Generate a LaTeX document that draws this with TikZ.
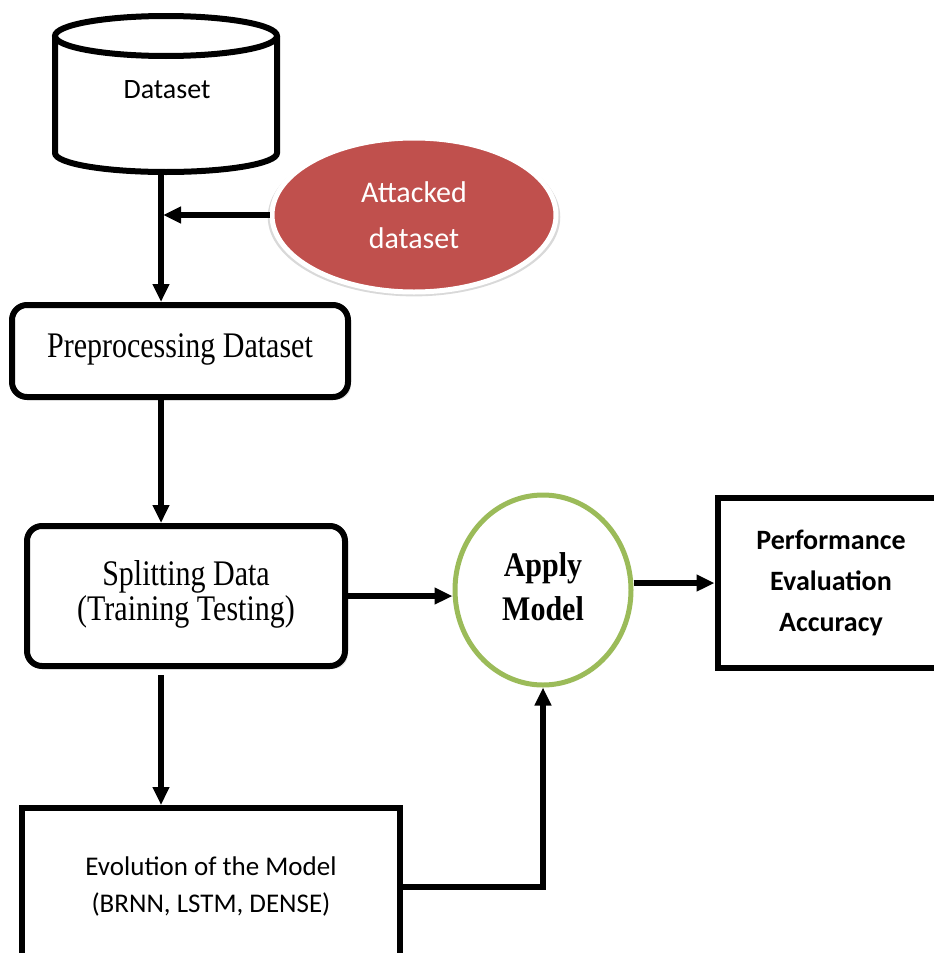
\documentclass[tikz,border=0pt]{standalone}
\usepackage{fontspec}
\setmainfont{Liberation Serif}
\newfontfamily\calfont{Carlito}
\usetikzlibrary{arrows.meta,shapes.geometric,shadows,calc}
\definecolor{attred}{HTML}{C0504D}
\definecolor{appgreen}{HTML}{9BBB59}
\newcommand{\tallstack}[2][1.2]{\scalebox{1}[#1]{\begin{tabular}{@{}c@{}}#2\end{tabular}}}
\begin{document}
\begin{tikzpicture}[x=1pt,y=-1pt,
  conn/.style={line width=5.5pt,-{Triangle[length=18pt,width=16pt]}},
  rbox/.style={draw,fill=white,line width=6pt,rounded corners=15pt,align=center,inner sep=0pt,
    drop shadow={opacity=0.25,shadow xshift=3pt,shadow yshift=-3pt}},
  sbox/.style={draw,fill=white,line width=6pt,align=center,inner sep=0pt},
  seriftext/.style={font=\fontsize{30}{28.5}\selectfont}]
\useasboundingbox (0,0) rectangle (934,953);
% cylinder
\draw[line width=6pt,fill=white] (55,36) -- (55,153) arc[start angle=180,end angle=0,x radius=111,y radius=19] -- (277,36);
\draw[line width=6pt] (166,36) ellipse [x radius=111,y radius=20];
\node[font=\calfont\fontsize{28}{34}\selectfont] (ds) at (167,90) {Dataset};
\coordinate (dsb) at (161,175);
% attacked
\node[ellipse,fill=attred,draw=white,line width=5pt,minimum width=284pt,minimum height=154pt,
  text=white,font=\calfont\fontsize{30}{46}\selectfont,align=center,
  drop shadow={opacity=0.3,shadow xshift=0pt,shadow yshift=-2pt,shadow scale=1.03}] (att) at (414,215) {Attacked\\dataset};
% boxes
\node[rbox,minimum width=336pt,minimum height=92pt,seriftext] (pre) at (180,351) {\tallstack{Preprocessing Dataset}};
\node[rbox,minimum width=318pt,minimum height=140pt,seriftext] (spl) at (186,596) {\raisebox{-3pt}{\tallstack{Splitting Data\\(Training Testing)}}};
\node[ellipse,draw=appgreen,line width=5pt,fill=white,minimum width=176pt,minimum height=190pt,
  font=\bfseries\fontsize{30}{38}\selectfont,align=center] (app) at (543,590) {\tallstack[1.15]{Apply\\Model}};
\node[sbox,minimum width=227pt,minimum height=170pt,font=\calfont\bfseries\fontsize{28}{41}\selectfont] (perf) at (831,583) {Performance\\Evaluation\\Accuracy};
\node[sbox,minimum width=378pt,minimum height=158pt,font=\calfont\fontsize{27}{37}\selectfont] (evo) at (211,887) {\raisebox{3pt}{\begin{tabular}{@{}c@{}}Evolution of the Model\\(BRNN, LSTM, DENSE)\end{tabular}}};
% connectors
\draw[conn] (dsb) -- (dsb |- pre.north);
\draw[conn] (att.west) -- ($(att.west -| dsb)+(2,0)$);
\draw[conn] (pre.south -| dsb) -- (dsb |- spl.north);
\draw[conn] (spl.east) -- (spl.east -| app.west);
\draw[conn] (app.east |- perf.west) -- (perf.west);
\draw[conn] ($(spl.south -| dsb)+(0,6)$) -- (dsb |- evo.north);
\draw[conn] (evo.east) -| (app.south);
\end{tikzpicture}
\end{document}
